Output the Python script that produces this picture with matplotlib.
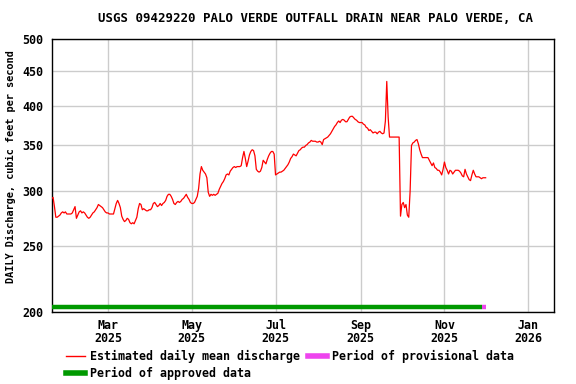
import matplotlib
matplotlib.use("Agg")
import matplotlib.pyplot as plt
from matplotlib.ticker import FixedLocator, FixedFormatter, NullLocator
from matplotlib.lines import Line2D
import pandas as pd

title = "USGS 09429220 PALO VERDE OUTFALL DRAIN NEAR PALO VERDE, CA"
ylabel = "DAILY Discharge, cubic feet per second"
start_date = "2025-01-19"
discharge = [
    293, 294, 285, 275, 275, 276, 277, 279, 280, 279, 280, 278, 278, 278, 278, 279,
    282, 285, 274, 277, 280, 281, 279, 280, 279, 277, 275, 274, 275, 277, 279, 280,
    282, 284, 287, 286, 285, 284, 282, 280, 279, 279, 278, 278, 278, 278, 283, 288,
    291, 288, 284, 276, 273, 271, 272, 274, 273, 270, 269, 270, 269, 272, 275, 283,
    288, 287, 282, 283, 282, 281, 281, 282, 282, 284, 288, 289, 287, 285, 286, 288,
    286, 288, 289, 291, 295, 297, 297, 295, 292, 288, 287, 289, 290, 289, 290, 292,
    293, 295, 297, 294, 292, 289, 288, 288, 289, 292, 295, 303, 318, 326, 322, 320,
    318, 314, 299, 295, 297, 296, 297, 296, 297, 298, 302, 305, 308, 310, 313, 317,
    318, 317, 321, 323, 325, 326, 325, 326, 326, 326, 327, 336, 343, 335, 326, 332,
    339, 343, 345, 344, 338, 323, 321, 320, 321, 325, 333, 331, 329, 334, 338, 341,
    343, 343, 340, 317, 318, 319, 320, 320, 321, 322, 324, 326, 328, 331, 335, 337,
    340, 339, 338, 341, 344, 345, 347, 348, 348, 350, 351, 353, 354, 356, 355, 355,
    355, 354, 354, 355, 354, 351, 357, 358, 359, 360, 362, 364, 367, 370, 373, 375,
    378, 380, 378, 381, 382, 381, 379, 379, 382, 385, 386, 386, 384, 382, 381, 379,
    378, 378, 378, 376, 375, 372, 371, 368, 369, 367, 365, 366, 366, 364, 366, 367,
    365, 364, 365, 380, 434, 385, 360, 360, 360, 360, 360, 360, 360, 360, 276, 287,
    289, 284, 287, 277, 275, 300, 350, 353, 354, 356, 357, 352, 345, 340, 336, 336,
    336, 336, 336, 333, 330, 327, 330, 325, 324, 322, 322, 320, 317, 323, 331, 325,
    322, 318, 322, 321, 318, 320, 322, 322, 322, 321, 319, 316, 315, 323, 318, 315,
    312, 311, 317, 322, 318, 315, 315, 315, 314, 313, 314, 314, 314,
]
approved_period = ("2025-01-19", "2025-11-28")
provisional_period = ("2025-11-28", "2025-12-01")
y_ticks = [200, 250, 300, 350, 400, 450, 500]
x_ticks = ["2025-03-01", "2025-05-01", "2025-07-01", "2025-09-01", "2025-11-01", "2026-01-01"]
x_ticklabels = ["Mar\n2025", "May\n2025", "Jul\n2025", "Sep\n2025", "Nov\n2025", "Jan\n2026"]
legend_labels = ["Estimated daily mean discharge", "Period of approved data", "Period of provisional data"]

dates = pd.date_range(start_date, periods=len(discharge), freq="D")

FONT = "DejaVu Sans Mono"
fig = plt.figure(figsize=(5.76, 3.84), dpi=100)
ax = fig.add_axes([51.7 / 576, 72 / 384, (554.3 - 51.7) / 576, (312 - 39.3) / 384])

ax.plot(dates, discharge, color="#ff0000", lw=0.9, zorder=3)

ax.set_yscale("log")
ax.set_ylim(200, 500)
ax.yaxis.set_major_locator(FixedLocator(y_ticks))
ax.yaxis.set_major_formatter(FixedFormatter([str(v) for v in y_ticks]))
ax.yaxis.set_minor_locator(NullLocator())

ax.set_xlim(pd.Timestamp("2025-01-19"), pd.Timestamp("2026-01-20"))
ax.set_xticks(pd.to_datetime(x_ticks))
ax.set_xticklabels(x_ticklabels)
ax.xaxis.set_minor_locator(NullLocator())

ax.grid(True, color="#cccccc", lw=1.0, zorder=0)
ax.set_axisbelow(True)
for s in ax.spines.values():
    s.set_color("black")
    s.set_linewidth(1.0)

ax.tick_params(axis="both", length=0, labelsize=8.4)
ax.tick_params(axis="y", pad=6)
ax.tick_params(axis="x", pad=5)
for lab in ax.get_xticklabels() + ax.get_yticklabels():
    lab.set_fontfamily(FONT)
    lab.set_fontweight("bold")
for lab in ax.get_xticklabels():
    lab.set_linespacing(1.0)

trans = ax.get_xaxis_transform()
ax.plot(pd.to_datetime(list(approved_period)), [0.018, 0.018], color="#009900", lw=3.2,
        solid_capstyle="butt", transform=trans, zorder=4, clip_on=False)
ax.plot(pd.to_datetime(list(provisional_period)), [0.018, 0.018], color="#ee44ee", lw=3.2,
        solid_capstyle="butt", transform=trans, zorder=4, clip_on=False)

fig.text(315 / 576, 1 - 19 / 384, title, ha="center", va="center", fontsize=8.9,
         fontfamily=FONT, fontweight="bold")
fig.text(11 / 576, 1 - 166.5 / 384, ylabel, ha="center", va="center", rotation=90,
         fontsize=7.35, fontfamily=FONT, fontweight="bold")

handles = [
    Line2D([], [], color="#ff0000", lw=1.0),
    Line2D([], [], color="#009900", lw=4),
    Line2D([], [], color="#ee44ee", lw=4),
]
leg = fig.legend(handles, legend_labels, loc="upper left", bbox_to_anchor=(66 / 576, 1 - 350 / 384),
                 ncol=2, frameon=False, borderpad=0, borderaxespad=0, handlelength=1.6,
                 handletextpad=0.45, columnspacing=0.7, labelspacing=0.35,
                 prop={"family": FONT, "weight": "bold", "size": 8.4})

fig.savefig("out.png", dpi=100)
